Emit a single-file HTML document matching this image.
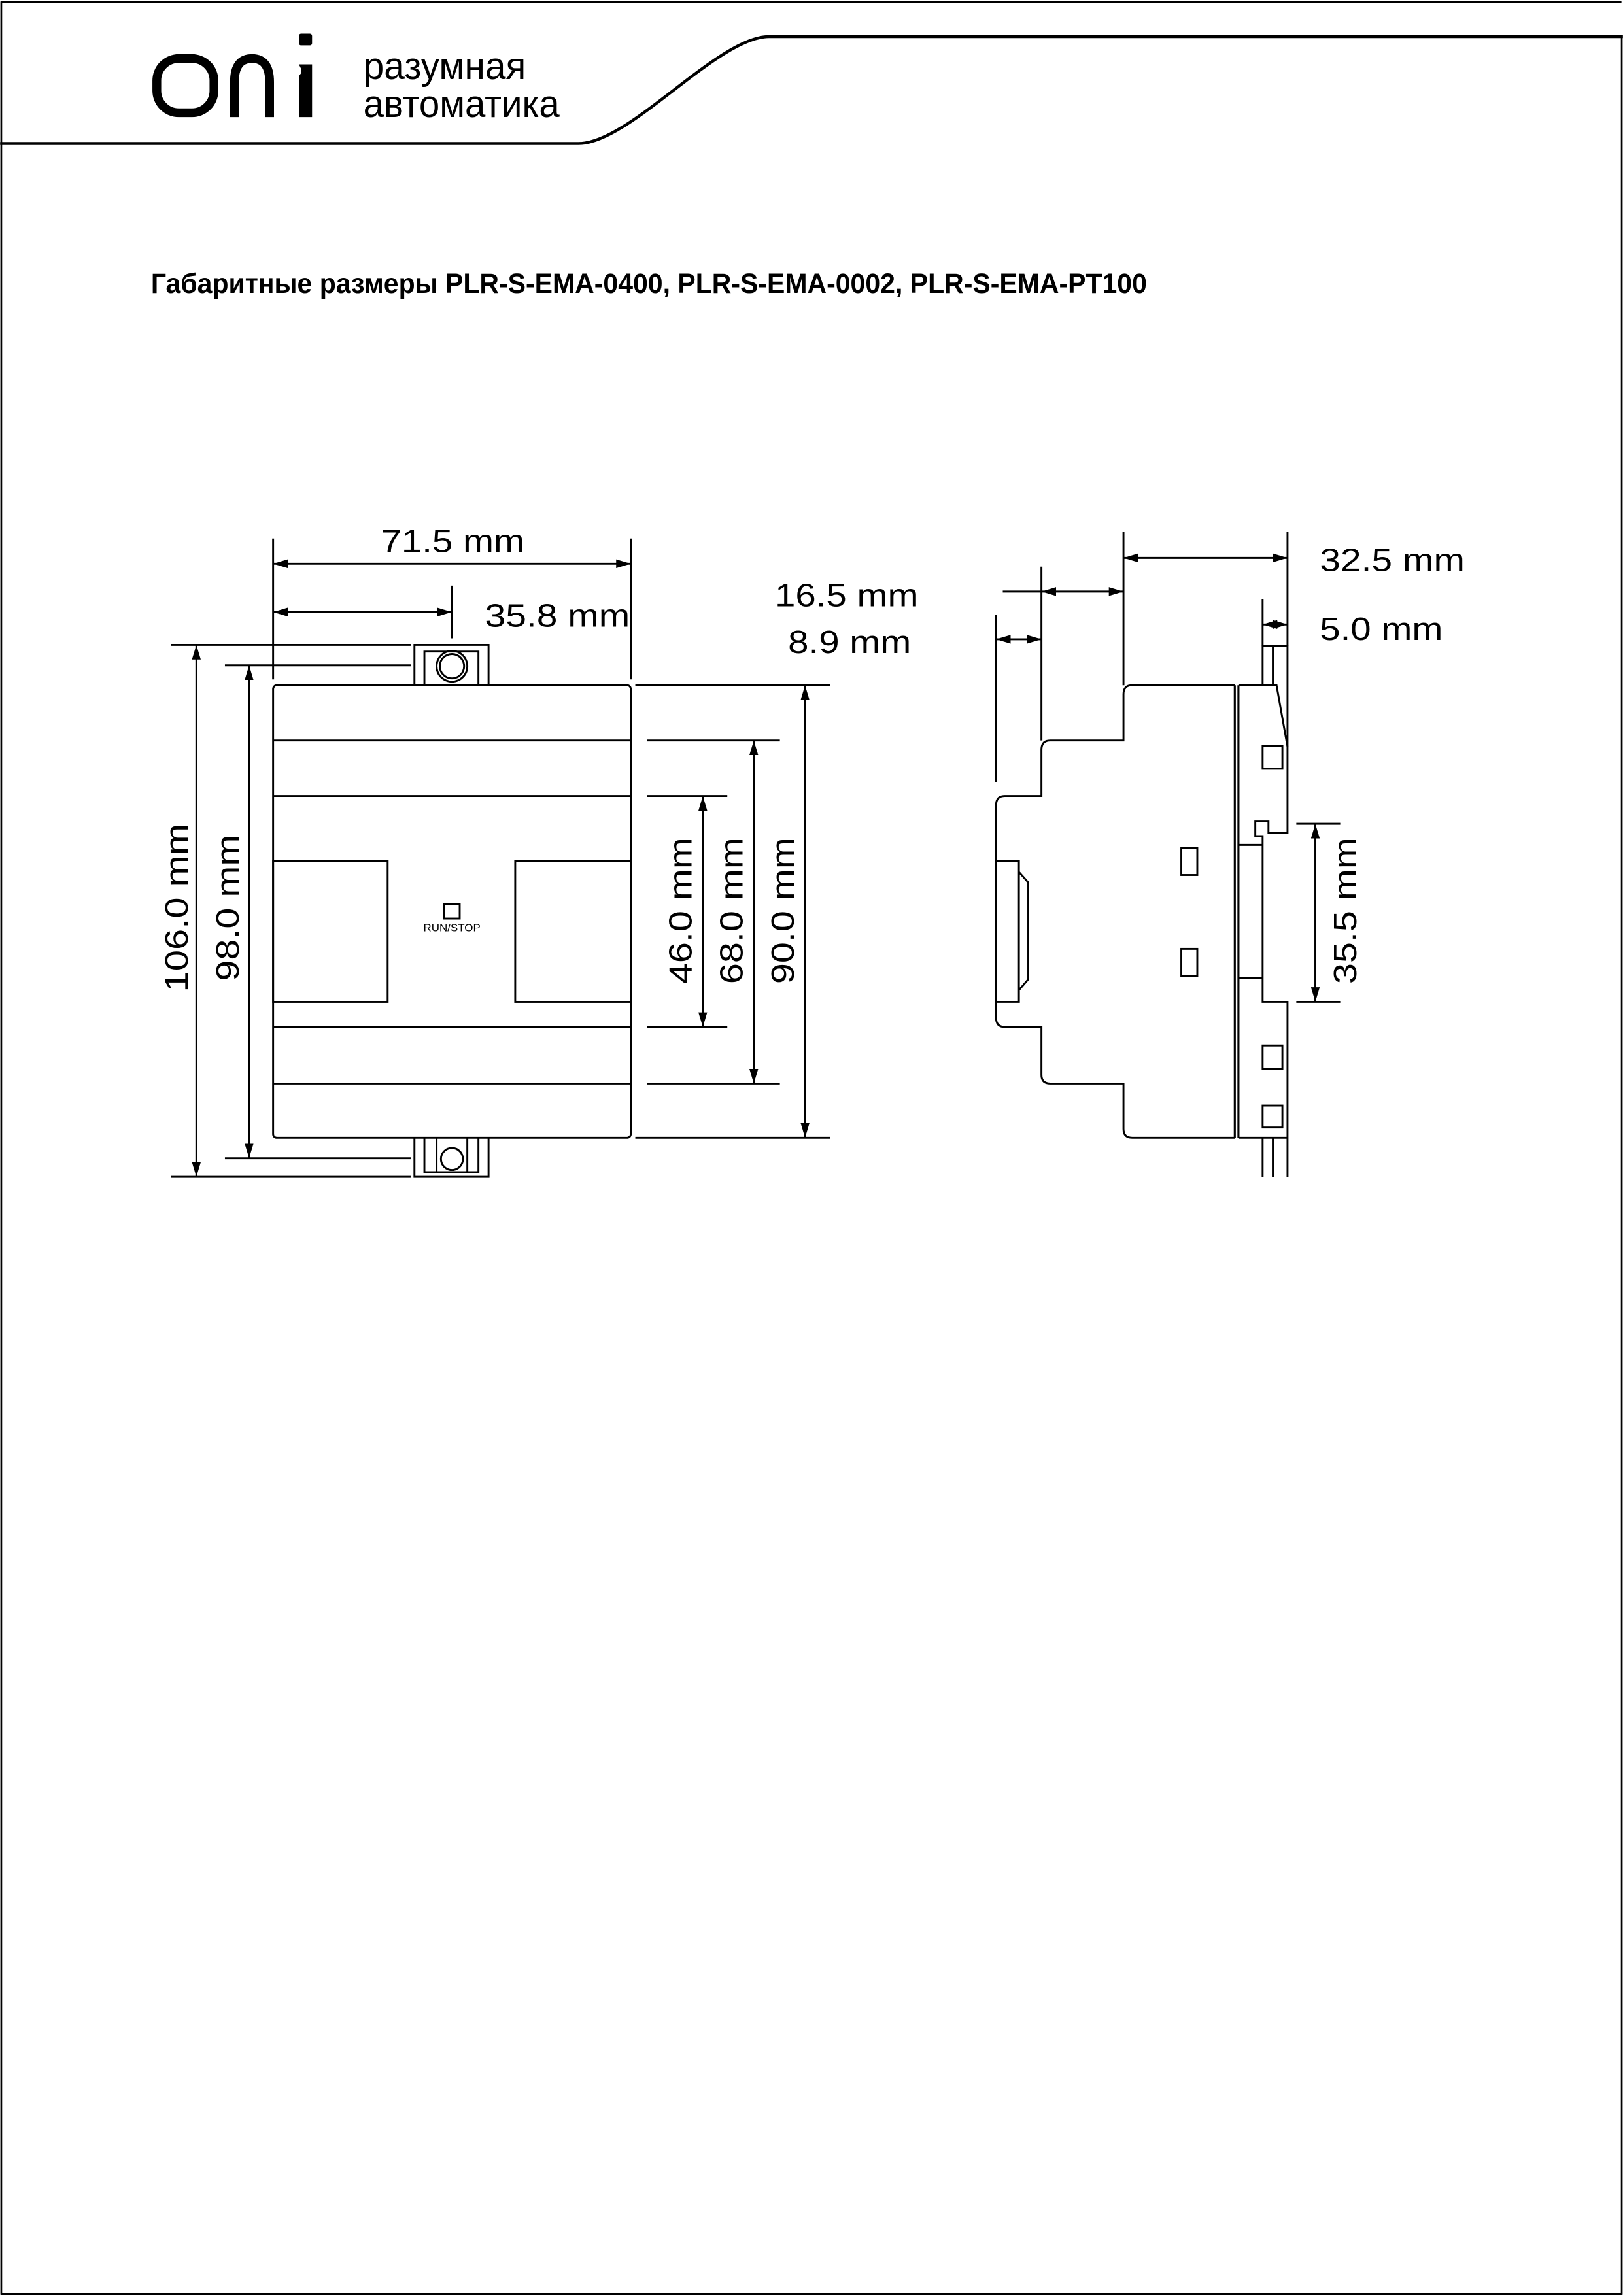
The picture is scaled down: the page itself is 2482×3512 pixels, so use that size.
<!DOCTYPE html>
<html><head><meta charset="utf-8"><style>
html,body{margin:0;padding:0;background:#fff;}
svg{display:block;}
text{font-family:"Liberation Sans",sans-serif;fill:#000;}
</style></head><body>
<svg width="2482" height="3512" viewBox="0 0 1108 1568" xmlns="http://www.w3.org/2000/svg">
<defs>
<marker id="a" viewBox="0 0 10 6" refX="10" refY="3" markerWidth="10" markerHeight="6" markerUnits="userSpaceOnUse" orient="auto-start-reverse"><path d="M0,0 L10,3 L0,6 z" fill="#000"/></marker>
</defs>
<rect x="0" y="0" width="1108" height="1568" fill="#fff"/>
<path d="M0.8 1.5 H1107 M0.8 1 V1567 M1107.2 25 V1567 M0.8 1566.8 H1107.2" stroke="#000" stroke-width="1.2" fill="none"/>
<path d="M0 98 H395 C430 98 490 25 525 25 H1108" stroke="#000" stroke-width="2" fill="none"/>
<rect x="107" y="40" width="39" height="37" rx="15" stroke="#000" stroke-width="6" fill="none"/>
<path d="M160 80 V56 Q160 40 172 40 Q184 40 184 56 V80" stroke="#000" stroke-width="6" fill="none"/>
<path d="M204 44 H213 V80 H204 V52 L205.5 50 V47 Z" fill="#000"/>
<rect x="204" y="23" width="9" height="8" rx="1.5" fill="#000"/>
<text x="248" y="54" font-size="26" textLength="111" lengthAdjust="spacingAndGlyphs">разумная</text>
<text x="248" y="80" font-size="26" textLength="134" lengthAdjust="spacingAndGlyphs">автоматика</text>
<text x="103" y="200" font-size="19" font-weight="bold" textLength="680" lengthAdjust="spacingAndGlyphs">Габаритные размеры  PLR-S-EMA-0400, PLR-S-EMA-0002, PLR-S-EMA-PT100</text>

<g stroke="#000" stroke-width="1.3" fill="none">
<rect x="186.4" y="468" width="244.2" height="309" rx="2.5"/>
<path d="M186.4 505.7 H430.6 M186.4 543.6 H430.6 M186.4 701.4 H430.6 M186.4 740 H430.6"/>
<rect x="186.4" y="587.8" width="78.2" height="96.4"/>
<rect x="351.7" y="587.8" width="78.9" height="96.4"/>
<rect x="303.2" y="617.5" width="10.6" height="9.8"/>
<path d="M282.9 468 V440.4 H333.5 V468"/>
<path d="M289.7 468 V445 H326.6 V468"/>
<circle cx="308.5" cy="455" r="10.5"/>
<circle cx="308.5" cy="455" r="8.3"/>
<path d="M282.9 777 V803.7 H333.5 V777"/>
<path d="M289.7 777 V800.5 H326.6 V777"/>
<path d="M298 777 V800.5 M319 777 V800.5"/>
<circle cx="308.5" cy="791.5" r="7.5"/>
<path d="M186.4 367.8 V464 M430.6 367.8 V464"/>
<path d="M186.4 385 H430.6" marker-start="url(#a)" marker-end="url(#a)"/>
<path d="M308.5 400 V436"/>
<path d="M186.4 418 H308.5" marker-start="url(#a)" marker-end="url(#a)"/>
<path d="M116.6 440.4 H280.3 M153.5 454.4 H280.3 M153.5 791 H280.3 M116.6 803.7 H280.3"/>
<path d="M134 440.4 V803.7" marker-start="url(#a)" marker-end="url(#a)"/>
<path d="M170 454.4 V791" marker-start="url(#a)" marker-end="url(#a)"/>
<path d="M433.7 468 H566.9 M433.7 777 H566.9 M441.5 505.7 H532.4 M441.5 740 H532.4 M441.5 543.6 H496.5 M441.5 701.4 H496.5"/>
<path d="M549.6 468 V777" marker-start="url(#a)" marker-end="url(#a)"/>
<path d="M514.6 505.7 V740" marker-start="url(#a)" marker-end="url(#a)"/>
<path d="M479.8 543.6 V701.4" marker-start="url(#a)" marker-end="url(#a)"/>

<path d="M843 468 H773 Q767 468 767 474 V505.7 H717 Q711 505.7 711 512 V543.6 H686 Q680 543.6 680 550 V695 Q680 701.4 686 701.4 H711 V734 Q711 740 717 740 H767 V771 Q767 777 773 777 H843"/>
<path d="M680 588 H695.6 V684.2 H680 M695.6 595.5 L702 602.7 V668.8 L695.6 676.2"/>
<path d="M843 468 V777 M845.5 468 V777" stroke-width="1.4"/>
<path d="M845.5 468 H871.5 L879 510 V569 H866 V561 H857 V571 H862 V577 H845.5 M845.5 668 H862 M862 577 V684.2 H879 V803.7 M845.5 777 H879"/>
<path d="M862 468 V441.3 H879 V510 M869 441.3 V468"/>
<path d="M862 777 V803.7 M869 777 V803.7"/>
<rect x="862" y="509.5" width="13.5" height="15.5"/>
<rect x="862" y="714" width="13.5" height="16"/>
<rect x="862" y="755" width="13.5" height="15"/>
<rect x="806.5" y="579" width="10.9" height="18.6"/>
<rect x="806.5" y="648" width="10.9" height="18.6"/>
<path d="M767 363 V468 M879 363 V441"/>
<path d="M767 381 H879" marker-start="url(#a)" marker-end="url(#a)"/>
<path d="M711 387 V505.7 M684.6 404 H711"/>
<path d="M711 404 H767" marker-start="url(#a)" marker-end="url(#a)"/>
<path d="M680 419.7 V534"/>
<path d="M680 436.6 H711" marker-start="url(#a)" marker-end="url(#a)"/>
<path d="M862 409 V441"/>
<path d="M862 426.5 H879" marker-start="url(#a)" marker-end="url(#a)"/>
<path d="M885 562.6 H915 M885 684.2 H915"/>
<path d="M898 562.6 V684.2" marker-start="url(#a)" marker-end="url(#a)"/>
</g>

<text x="289" y="636" font-size="7" textLength="39" lengthAdjust="spacingAndGlyphs">RUN/STOP</text>
<g font-size="22">
<text x="260" y="377" textLength="98" lengthAdjust="spacingAndGlyphs">71.5 mm</text>
<text x="331" y="428" textLength="99" lengthAdjust="spacingAndGlyphs">35.8 mm</text>
<text x="529" y="414" textLength="98" lengthAdjust="spacingAndGlyphs">16.5 mm</text>
<text x="538" y="446" textLength="84" lengthAdjust="spacingAndGlyphs">8.9 mm</text>
<text x="901" y="390" textLength="99" lengthAdjust="spacingAndGlyphs">32.5 mm</text>
<text x="901" y="437" textLength="84" lengthAdjust="spacingAndGlyphs">5.0 mm</text>
<text transform="translate(128,620) rotate(-90)" text-anchor="middle" textLength="115" lengthAdjust="spacingAndGlyphs">106.0 mm</text>
<text transform="translate(163,620) rotate(-90)" text-anchor="middle" textLength="100" lengthAdjust="spacingAndGlyphs">98.0 mm</text>
<text transform="translate(472,622) rotate(-90)" text-anchor="middle" textLength="100" lengthAdjust="spacingAndGlyphs">46.0 mm</text>
<text transform="translate(507,622) rotate(-90)" text-anchor="middle" textLength="100" lengthAdjust="spacingAndGlyphs">68.0 mm</text>
<text transform="translate(542,622) rotate(-90)" text-anchor="middle" textLength="100" lengthAdjust="spacingAndGlyphs">90.0 mm</text>
<text transform="translate(926,622) rotate(-90)" text-anchor="middle" textLength="100" lengthAdjust="spacingAndGlyphs">35.5 mm</text>
</g>
</svg>
</body></html>
